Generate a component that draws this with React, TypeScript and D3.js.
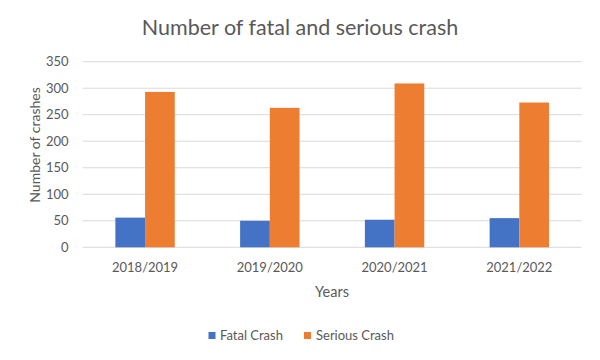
import React from "react";
import * as d3 from "d3";

const categories = ["2018/2019", "2019/2020", "2020/2021", "2021/2022"];
const seriesNames = ["Fatal Crash", "Serious Crash"];
const fatalValues = [56, 50, 52, 55];
const seriousValues = [293, 263, 309, 273];
const yTicks = [0, 50, 100, 150, 200, 250, 300, 350];
const colors = ["#4472C4", "#ED7D31"];

const W = 600;
const H = 360;
const FONT = "Lato, 'Open Sans', sans-serif";

export default function App() {
  const left = 82.7;
  const right = 581.7;
  const top = 61.7;
  const bottom = 247.3;

  const x = d3.scaleBand<string>().domain(categories).range([left, right]).paddingInner(0).paddingOuter(0);
  const inner = d3
    .scaleBand<string>()
    .domain(seriesNames)
    .range([0, x.bandwidth()])
    .paddingInner(0)
    .paddingOuter(1.1);
  const y = d3.scaleLinear().domain([0, 350]).range([bottom, top]);

  const data = [fatalValues, seriousValues];

  return (
    <svg
      width={W}
      height={H}
      style={{ position: "absolute", left: 0, top: 0, background: "#fff" }}
      fontFamily={FONT}
    >
      <rect x={0} y={0} width={W} height={H} fill="#fff" />
      <text x={300} y={35} textAnchor="middle" fontSize={21.5} fill="#595959">
        Number of fatal and serious crash
      </text>
      {yTicks.map((t) => (
        <g key={t}>
          <line x1={left} x2={right} y1={y(t)} y2={y(t)} stroke="#D9D9D9" strokeWidth={1} />
          <text x={68.5} y={y(t)} dy="0.35em" textAnchor="end" fontSize={13} fill="#595959">
            {t}
          </text>
        </g>
      ))}
      {seriesNames.map((s, si) =>
        categories.map((c, ci) => (
          <rect
            key={s + c}
            x={(x(c) ?? 0) + (inner(s) ?? 0)}
            y={y(data[si][ci])}
            width={inner.bandwidth()}
            height={y(0) - y(data[si][ci])}
            fill={colors[si]}
          />
        ))
      )}
      {categories.map((c) => (
        <text
          key={c}
          x={(x(c) ?? 0) + x.bandwidth() / 2}
          y={272}
          textAnchor="middle"
          fontSize={13}
          fill="#595959"
        >
          {c}
        </text>
      ))}
      <text x={332} y={297} textAnchor="middle" fontSize={14.5} fill="#595959">
        Years
      </text>
      <text
        transform={`translate(40,145) rotate(-90)`}
        textAnchor="middle"
        fontSize={14}
        fill="#595959"
      >
        Number of crashes
      </text>
      <g>
        <rect x={208.5} y={332} width={7} height={7} fill={colors[0]} />
        <text x={220} y={339.5} fontSize={13} fill="#595959">
          {seriesNames[0]}
        </text>
        <rect x={304} y={332} width={7} height={7} fill={colors[1]} />
        <text x={316} y={339.5} fontSize={13} fill="#595959">
          {seriesNames[1]}
        </text>
      </g>
    </svg>
  );
}
